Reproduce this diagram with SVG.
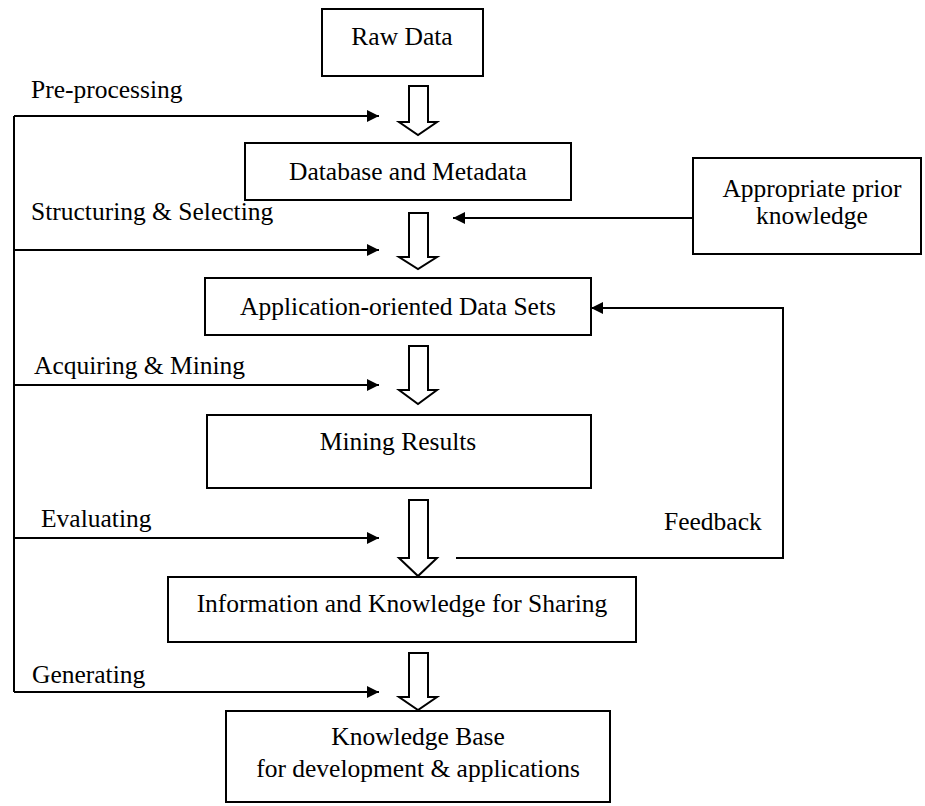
<svg xmlns="http://www.w3.org/2000/svg" width="925" height="806" viewBox="0 0 925 806">
<defs>
<style>
.box{fill:#fff;stroke:#000;stroke-width:2}
.t{font-family:"Liberation Serif","Times New Roman",serif;font-size:25.5px;fill:#000}
.c{text-anchor:middle}
.ln{fill:none;stroke:#000;stroke-width:2}
.ha{fill:#fff;stroke:#000;stroke-width:2;stroke-linejoin:miter}
</style>
<marker id="ah" viewBox="0 0 10 10" refX="10" refY="5" markerWidth="16" markerHeight="12" markerUnits="userSpaceOnUse" orient="auto">
<path d="M0,0 L10,5 L0,10 Z" fill="#000"/>
</marker>
</defs>
<rect width="925" height="806" fill="#fff"/>
<g id="raw-data"><rect class="box" x="322" y="9" width="161" height="67"/><text class="t c" x="402" y="45">Raw Data</text></g>
<g id="database"><rect class="box" x="245" y="143" width="326" height="57"/><text class="t c" x="408" y="180">Database and Metadata</text></g>
<g id="prior-knowledge"><rect class="box" x="693" y="158" width="228" height="96"/><text class="t c" x="812" y="197">Appropriate prior</text><text class="t c" x="812" y="224">knowledge</text></g>
<g id="app-data-sets"><rect class="box" x="205" y="278" width="386" height="57"/><text class="t c" x="398" y="315">Application-oriented Data Sets</text></g>
<g id="mining-results"><rect class="box" x="207" y="415" width="384" height="73"/><text class="t c" x="398" y="450">Mining Results</text></g>
<g id="info-knowledge"><rect class="box" x="168" y="577" width="468" height="65"/><text class="t c" x="402" y="612">Information and Knowledge for Sharing</text></g>
<g id="knowledge-base"><rect class="box" x="226" y="711" width="384" height="91"/><text class="t c" x="418" y="745">Knowledge Base</text><text class="t c" x="418" y="777">for development &amp; applications</text></g>
<g id="labels">
<text class="t" x="31" y="98">Pre-processing</text>
<text class="t" x="31" y="220">Structuring &amp; Selecting</text>
<text class="t" x="34" y="374">Acquiring &amp; Mining</text>
<text class="t" x="41" y="527">Evaluating</text>
<text class="t" x="664" y="530">Feedback</text>
<text class="t" x="32" y="683">Generating</text>
</g>
<g id="connectors">
<path class="ha" d="M409,86 H428 V122 H437 L418,135 L399,122 H409 Z"/>
<path class="ha" d="M409,213 H428 V257 H437 L418,269 L399,257 H409 Z"/>
<path class="ha" d="M409,346 H428 V390 H437 L418,404 L399,390 H409 Z"/>
<path class="ha" d="M409,500 H428 V558 H437 L418,576 L399,558 H409 Z"/>
<path class="ha" d="M409,653 H428 V697 H437 L418,710 L399,697 H409 Z"/>
<path class="ln" d="M14,692 V116"/>
<path class="ln" d="M14,116 H379" marker-end="url(#ah)"/>
<path class="ln" d="M14,250 H379" marker-end="url(#ah)"/>
<path class="ln" d="M14,385 H379" marker-end="url(#ah)"/>
<path class="ln" d="M14,538 H379" marker-end="url(#ah)"/>
<path class="ln" d="M14,692 H379" marker-end="url(#ah)"/>
<path class="ln" d="M693,218 H453" marker-end="url(#ah)"/>
<path class="ln" d="M456,558 H783 V308 H591" marker-end="url(#ah)"/>
</g>
</svg>
